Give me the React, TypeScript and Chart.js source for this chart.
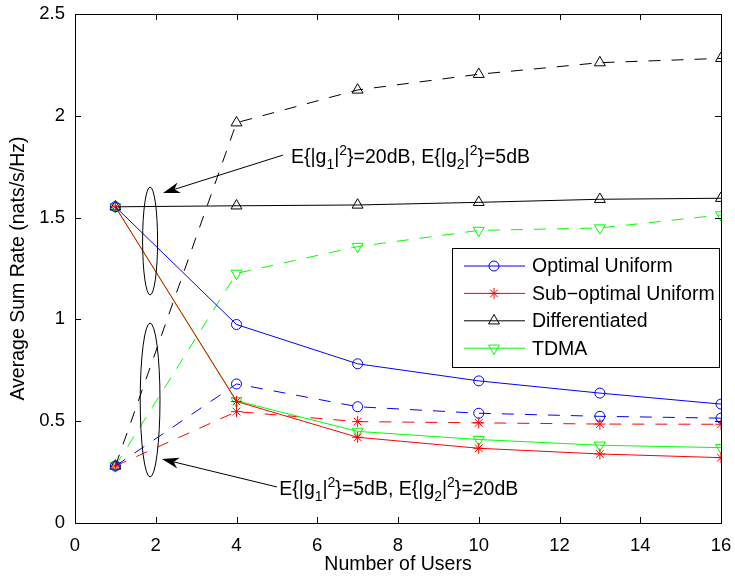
import { useEffect, useRef } from 'react';
import { Chart, registerables } from 'chart.js';

Chart.register(...registerables);

// ---------- data ----------
const users = [1, 4, 7, 10, 13, 16];

// E{|g1|^2}=20dB, E{|g2|^2}=5dB  (solid)
const optimalHigh = [1.553, 0.975, 0.782, 0.698, 0.638, 0.584];
const subOptimalHigh = [1.553, 0.597, 0.421, 0.367, 0.339, 0.321];
const differentiatedHigh = [1.553, 1.558, 1.562, 1.575, 1.590, 1.595];
const tdmaHigh = [1.553, 0.600, 0.450, 0.410, 0.382, 0.370];

// E{|g1|^2}=5dB, E{|g2|^2}=20dB  (dashed)
const optimalLow = [0.280, 0.683, 0.571, 0.539, 0.524, 0.515];
const subOptimalLow = [0.280, 0.547, 0.498, 0.492, 0.486, 0.485];
const differentiatedLow = [0.280, 1.966, 2.127, 2.204, 2.261, 2.282];
const tdmaLow = [0.280, 1.226, 1.358, 1.437, 1.449, 1.513];

const xTicks = [0, 2, 4, 6, 8, 10, 12, 14, 16];
const yTicks = [0, 0.5, 1, 1.5, 2, 2.5];
const yTickLabels = ['0', '0.5', '1', '1.5', '2', '2.5'];

const legendLabels = ['Optimal Uniform', 'Sub\u2212optimal Uniform', 'Differentiated', 'TDMA'];
const xTitle = 'Number of Users';
const yTitle = 'Average Sum Rate (nats/s/Hz)';

const FONT = "'Liberation Sans', Arial, Helvetica, sans-serif";
const FS = 19.5;

type Part = { t: string; s?: 'sub' | 'sup' };
const upperText: Part[] = [
  { t: 'E{|g' }, { t: '1', s: 'sub' }, { t: '|' }, { t: '2', s: 'sup' }, { t: '}=20dB, E{|g' },
  { t: '2', s: 'sub' }, { t: '|' }, { t: '2', s: 'sup' }, { t: '}=5dB' },
];
const lowerText: Part[] = [
  { t: 'E{|g' }, { t: '1', s: 'sub' }, { t: '|' }, { t: '2', s: 'sup' }, { t: '}=5dB, E{|g' },
  { t: '2', s: 'sub' }, { t: '|' }, { t: '2', s: 'sup' }, { t: '}=20dB' },
];

function drawRich(ctx: CanvasRenderingContext2D, x: number, y: number, parts: Part[]) {
  let cx = x;
  ctx.textAlign = 'left';
  ctx.textBaseline = 'alphabetic';
  for (const p of parts) {
    ctx.font = p.s ? `14px ${FONT}` : `${FS}px ${FONT}`;
    const dy = p.s === 'sub' ? 6 : p.s === 'sup' ? -8 : 0;
    ctx.fillText(p.t, cx, y + dy);
    cx += ctx.measureText(p.t).width;
  }
}

function drawArrow(ctx: CanvasRenderingContext2D, x1: number, y1: number, x2: number, y2: number) {
  const ang = Math.atan2(y2 - y1, x2 - x1);
  const L = 17, W = 5.5, N = 12;
  const bx = x2 - L * Math.cos(ang), by = y2 - L * Math.sin(ang);
  const nx = x2 - N * Math.cos(ang), ny = y2 - N * Math.sin(ang);
  const px = -Math.sin(ang), py = Math.cos(ang);
  ctx.beginPath();
  ctx.moveTo(x1, y1);
  ctx.lineTo(nx, ny);
  ctx.stroke();
  ctx.beginPath();
  ctx.moveTo(x2, y2);
  ctx.lineTo(bx + px * W, by + py * W);
  ctx.lineTo(nx, ny);
  ctx.lineTo(bx - px * W, by - py * W);
  ctx.closePath();
  ctx.fill();
}

function drawMarker(ctx: CanvasRenderingContext2D, style: string, x: number, y: number, r: number, rot: number, color: string) {
  ctx.save();
  ctx.strokeStyle = color;
  ctx.lineWidth = 1;
  ctx.beginPath();
  if (style === 'circle') {
    ctx.arc(x, y, r, 0, Math.PI * 2);
  } else if (style === 'star') {
    for (let k = 0; k < 4; k++) {
      const a = (k * Math.PI) / 4;
      ctx.moveTo(x + Math.cos(a) * r, y + Math.sin(a) * r);
      ctx.lineTo(x - Math.cos(a) * r, y - Math.sin(a) * r);
    }
  } else if (style === 'triangle') {
    let a = (rot * Math.PI) / 180;
    ctx.moveTo(x + Math.sin(a) * r, y - Math.cos(a) * r);
    a += (2 * Math.PI) / 3;
    ctx.lineTo(x + Math.sin(a) * r, y - Math.cos(a) * r);
    a += (2 * Math.PI) / 3;
    ctx.lineTo(x + Math.sin(a) * r, y - Math.cos(a) * r);
    ctx.closePath();
  }
  ctx.stroke();
  ctx.restore();
}

const decorPlugin = {
  id: 'decor',
  afterDraw(chart: any) {
    const ctx: CanvasRenderingContext2D = chart.ctx;
    const { left, right, top, bottom } = chart.chartArea;
    const xs = chart.scales.x;
    const ys = chart.scales.y;
    ctx.save();
    ctx.strokeStyle = '#000';
    ctx.fillStyle = '#000';
    ctx.lineWidth = 1;
    ctx.setLineDash([]);

    // ellipses
    const ell = (cx: number, cy: number, rxv: number, ryv: number) => {
      const px = xs.getPixelForValue(cx), py = ys.getPixelForValue(cy);
      const rx = Math.abs(xs.getPixelForValue(cx + rxv) - px);
      const ry = Math.abs(ys.getPixelForValue(cy + ryv) - py);
      ctx.beginPath();
      ctx.ellipse(px, py, rx, ry, 0, 0, Math.PI * 2);
      ctx.stroke();
    };
    ell(1.86, 1.385, 0.186, 0.265);
    ell(1.86, 0.604, 0.245, 0.378);

    // arrows
    drawArrow(ctx, xs.getPixelForValue(5.15), ys.getPixelForValue(1.807), xs.getPixelForValue(2.18), ys.getPixelForValue(1.621));
    drawArrow(ctx, xs.getPixelForValue(5.0), ys.getPixelForValue(0.177), xs.getPixelForValue(2.155), ys.getPixelForValue(0.314));

    // annotation text
    drawRich(ctx, xs.getPixelForValue(5.35), ys.getPixelForValue(1.768), upperText);
    drawRich(ctx, xs.getPixelForValue(5.06), ys.getPixelForValue(0.1375), lowerText);

    // axes box
    ctx.strokeStyle = '#000';
    ctx.strokeRect(Math.round(left) + 0.5, Math.round(top) + 0.5, Math.round(right - left), Math.round(bottom - top));

    // inward ticks
    const tl = 6;
    ctx.beginPath();
    for (const v of xTicks) {
      const p = Math.round(xs.getPixelForValue(v)) + 0.5;
      ctx.moveTo(p, bottom); ctx.lineTo(p, bottom - tl);
      ctx.moveTo(p, top); ctx.lineTo(p, top + tl);
    }
    for (const v of yTicks) {
      const p = Math.round(ys.getPixelForValue(v)) + 0.5;
      ctx.moveTo(left, p); ctx.lineTo(left + tl, p);
      ctx.moveTo(right, p); ctx.lineTo(right - tl, p);
    }
    ctx.stroke();

    // titles
    ctx.font = `${FS}px ${FONT}`;
    ctx.textAlign = 'center';
    ctx.textBaseline = 'middle';
    ctx.fillText(xTitle, (left + right) / 2, 565);
    ctx.save();
    ctx.translate(19, (top + bottom) / 2);
    ctx.rotate(-Math.PI / 2);
    ctx.fillText(yTitle, 0, 0);
    ctx.restore();

    // legend
    const bx = right - 269, by = top + 234, bw = 267, bh = 119;
    ctx.fillStyle = '#fff';
    ctx.fillRect(bx, by, bw, bh);
    ctx.strokeStyle = '#000';
    ctx.strokeRect(bx + 0.5, by + 0.5, bw, bh);
    const ds = chart.data.datasets;
    legendLabels.forEach((lab, i) => {
      const d = ds[i];
      const yy = by + 18 + i * 27.4;
      ctx.strokeStyle = d.borderColor;
      ctx.lineWidth = 1;
      ctx.beginPath();
      ctx.moveTo(bx + 12, yy);
      ctx.lineTo(bx + 73, yy);
      ctx.stroke();
      drawMarker(ctx, d.pointStyle, bx + 42, yy, d.pointRadius, d.pointRotation || 0, d.borderColor);
      ctx.fillStyle = '#000';
      ctx.font = `${FS}px ${FONT}`;
      ctx.textAlign = 'left';
      ctx.textBaseline = 'middle';
      ctx.fillText(lab, bx + 80, yy + 1);
    });
    ctx.restore();
  },
};

function mk(label: string, vals: number[], color: string, style: string, dashed: boolean, rot = 0, radius = 5) {
  return {
    label,
    data: users.map((x, i) => ({ x, y: vals[i] })),
    borderColor: color,
    backgroundColor: 'rgba(0,0,0,0)',
    borderWidth: 1,
    borderDash: dashed ? [12, 11] : [],
    pointStyle: style,
    pointRadius: radius,
    pointRotation: rot,
    pointBorderColor: color,
    pointBackgroundColor: 'rgba(0,0,0,0)',
    pointBorderWidth: 1,
    tension: 0,
    fill: false,
  };
}

export default function App() {
  const ref = useRef<HTMLCanvasElement>(null);
  useEffect(() => {
    if (!ref.current) return;
    const datasets = [
      mk(legendLabels[0], optimalHigh, '#0000ff', 'circle', false),
      mk(legendLabels[1], subOptimalHigh, '#ff0000', 'star', false, 0, 5.5),
      mk(legendLabels[2], differentiatedHigh, '#000000', 'triangle', false, 0, 6.3),
      mk(legendLabels[3], tdmaHigh, '#00ff00', 'triangle', false, 180, 6.3),
      mk(legendLabels[0] + ' (5dB/20dB)', optimalLow, '#0000ff', 'circle', true),
      mk(legendLabels[1] + ' (5dB/20dB)', subOptimalLow, '#ff0000', 'star', true, 0, 5.5),
      mk(legendLabels[2] + ' (5dB/20dB)', differentiatedLow, '#000000', 'triangle', true, 0, 6.3),
      mk(legendLabels[3] + ' (5dB/20dB)', tdmaLow, '#00ff00', 'triangle', true, 180, 6.3),
    ];
    const chart = new Chart(ref.current, {
      type: 'line',
      data: { datasets } as any,
      plugins: [decorPlugin],
      options: {
        animation: false,
        responsive: false,
        devicePixelRatio: 1,
        layout: { padding: { top: 14, right: 14, left: 0, bottom: 0 } },
        plugins: { legend: { display: false }, tooltip: { enabled: false } },
        scales: {
          x: {
            type: 'linear',
            min: 0,
            max: 16,
            afterBuildTicks: (s: any) => { s.ticks = xTicks.map((v) => ({ value: v })); },
            afterFit: (s: any) => { s.height = 54; s.paddingLeft = 0; s.paddingRight = 0; },
            grid: { display: false, drawTicks: false },
            border: { display: false },
            ticks: { color: '#000', font: { family: FONT, size: 18.5 }, padding: 12, maxRotation: 0 },
          },
          y: {
            type: 'linear',
            min: 0,
            max: 2.5,
            afterBuildTicks: (s: any) => { s.ticks = yTicks.map((v) => ({ value: v })); },
            afterFit: (s: any) => { s.width = 75; s.paddingTop = 0; s.paddingBottom = 0; },
            grid: { display: false, drawTicks: false },
            border: { display: false },
            ticks: {
              color: '#000',
              font: { family: FONT, size: 18.5 },
              padding: 10,
              callback: (v: any) => {
                const i = yTicks.indexOf(Number(v));
                return i >= 0 ? yTickLabels[i] : '';
              },
            },
          },
        },
      } as any,
    });
    return () => chart.destroy();
  }, []);
  return (
    <div style={{ position: 'fixed', left: 0, top: 0, width: 735, height: 577, background: '#fff' }}>
      <canvas ref={ref} width={735} height={577} style={{ display: 'block' }} />
    </div>
  );
}
